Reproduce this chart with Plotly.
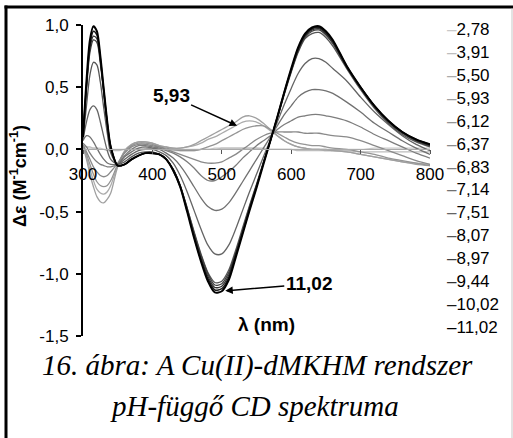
import plotly.graph_objects as go

# ---------------- data ----------------
wavelength = [300, 305, 310, 315, 320, 325, 330, 335, 340,
              350, 360, 370, 380, 390, 400, 410, 420, 430, 440,
              450, 460, 470, 480, 490, 500, 510, 520, 530, 540,
              550, 560, 570, 580, 590, 600, 610, 620, 630, 640,
              650, 660,
              680, 700, 720, 740, 760, 780, 800]

ph_labels = ["2,78", "3,91", "5,50", "5,93", "6,12", "6,37", "6,83",
             "7,14", "7,51", "8,07", "8,97", "9,44", "10,02", "11,02"]

ph_278 = [0.02, 0.02, 0.01, 0.01, 0.01, 0.01, 0.00, 0.00, 0.00,
          0.00, 0.00, 0.00, 0.01, 0.01, 0.01, 0.00, 0.00, 0.00, 0.00,
          0.00, 0.00, 0.00, 0.00, 0.01, 0.01, 0.01, 0.01, 0.01, 0.01,
          0.01, 0.00, 0.00, 0.00, 0.00, 0.00, 0.00, 0.00, 0.00, 0.00,
          0.00, 0.00,
          0.00, 0.00, 0.01, 0.01, 0.01, 0.01, 0.01]
ph_391 = [0.03, 0.02, 0.02, 0.01, 0.01, 0.00, 0.00, -0.01, -0.01,
          -0.01, 0.00, 0.00, 0.00, 0.01, 0.00, 0.00, 0.00, -0.01, -0.01,
          -0.01, -0.01, 0.00, 0.00, 0.00, 0.01, 0.01, 0.01, 0.01, 0.01,
          0.01, 0.01, 0.00, 0.00, 0.00, 0.00, -0.01, -0.01, -0.01, -0.01,
          -0.01, -0.01,
          -0.01, -0.02, -0.02, -0.02, -0.02, -0.02, -0.02]
ph_550 = [0.03, -0.06, -0.16, -0.25, -0.32, -0.35, -0.36, -0.34, -0.29,
          -0.13, -0.01, 0.04, 0.06, 0.06, 0.05, 0.03, 0.02, 0.01, 0.01,
          0.02, 0.03, 0.05, 0.08, 0.10, 0.13, 0.16, 0.19, 0.22, 0.23,
          0.22, 0.19, 0.15, 0.11, 0.07, 0.04, 0.02, 0.01, 0.00, 0.00,
          -0.01, -0.01,
          -0.02, -0.04, -0.06, -0.08, -0.10, -0.11, -0.12]
ph_593 = [0.02, -0.08, -0.20, -0.30, -0.38, -0.42, -0.43, -0.40, -0.35,
          -0.14, -0.02, 0.04, 0.06, 0.06, 0.05, 0.03, 0.02, 0.01, 0.01,
          0.02, 0.04, 0.07, 0.10, 0.13, 0.16, 0.19, 0.22, 0.26, 0.27,
          0.25, 0.21, 0.16, 0.11, 0.07, 0.04, 0.02, 0.01, 0.00, 0.00,
          0.00, -0.01,
          -0.02, -0.04, -0.06, -0.08, -0.10, -0.12, -0.13]
ph_612 = [0.03, -0.04, -0.12, -0.20, -0.26, -0.29, -0.30, -0.29, -0.25,
          -0.12, -0.02, 0.03, 0.05, 0.05, 0.04, 0.02, 0.01, 0.00, -0.01,
          -0.01, -0.01, 0.00, 0.02, 0.04, 0.07, 0.10, 0.13, 0.16, 0.18,
          0.19, 0.19, 0.16, 0.13, 0.10, 0.07, 0.05, 0.04, 0.03, 0.03,
          0.02, 0.01,
          0.00, -0.02, -0.04, -0.07, -0.09, -0.11, -0.13]
ph_637 = [0.04, -0.02, -0.08, -0.14, -0.18, -0.21, -0.22, -0.21, -0.18,
          -0.11, -0.03, 0.02, 0.04, 0.04, 0.03, 0.02, 0.00, -0.02, -0.04,
          -0.06, -0.08, -0.10, -0.11, -0.11, -0.10, -0.07, -0.04, 0.00, 0.04,
          0.08, 0.11, 0.13, 0.14, 0.14, 0.14, 0.14, 0.13, 0.13, 0.13,
          0.12, 0.11,
          0.10, 0.07, 0.03, -0.01, -0.05, -0.09, -0.12]
ph_683 = [0.05, 0.02, -0.03, -0.07, -0.10, -0.12, -0.13, -0.14, -0.14,
          -0.12, -0.05, 0.00, 0.03, 0.03, 0.02, 0.01, -0.01, -0.03, -0.06,
          -0.10, -0.15, -0.21, -0.25, -0.25, -0.22, -0.18, -0.13, -0.07, -0.02,
          0.03, 0.07, 0.11, 0.16, 0.20, 0.23, 0.26, 0.27, 0.28, 0.28,
          0.27, 0.26,
          0.23, 0.18, 0.12, 0.07, 0.02, -0.03, -0.07]
ph_714 = [0.07, 0.11, 0.10, 0.06, 0.01, -0.04, -0.08, -0.11, -0.12,
          -0.12, -0.06, -0.02, 0.01, 0.02, 0.01, 0.00, -0.03, -0.07, -0.13,
          -0.21, -0.30, -0.39, -0.46, -0.49, -0.48, -0.43, -0.35, -0.26, -0.17,
          -0.08, 0.01, 0.10, 0.19, 0.28, 0.35, 0.42, 0.46, 0.48, 0.48,
          0.47, 0.45,
          0.38, 0.30, 0.21, 0.14, 0.07, 0.01, -0.04]
ph_751 = [0.08, 0.22, 0.32, 0.35, 0.32, 0.22, 0.10, -0.01, -0.08,
          -0.12, -0.08, -0.04, -0.01, 0.00, 0.00, -0.02, -0.05, -0.11, -0.21,
          -0.34, -0.49, -0.64, -0.77, -0.84, -0.84, -0.77, -0.64, -0.49, -0.34,
          -0.20, -0.06, 0.08, 0.22, 0.36, 0.49, 0.61, 0.69, 0.73, 0.73,
          0.70, 0.65,
          0.55, 0.42, 0.30, 0.20, 0.11, 0.04, -0.01]
ph_807 = [0.08, 0.35, 0.60, 0.70, 0.68, 0.54, 0.33, 0.13, -0.03,
          -0.12, -0.10, -0.06, -0.03, -0.02, -0.02, -0.04, -0.08, -0.16, -0.29,
          -0.47, -0.66, -0.84, -0.99, -1.07, -1.06, -0.97, -0.81, -0.63, -0.45,
          -0.28, -0.10, 0.07, 0.25, 0.44, 0.62, 0.78, 0.89, 0.93, 0.94,
          0.90, 0.83,
          0.65, 0.48, 0.33, 0.21, 0.12, 0.06, 0.02]
ph_897 = [0.10, 0.48, 0.78, 0.88, 0.86, 0.69, 0.45, 0.20, 0.01,
          -0.13, -0.12, -0.08, -0.05, -0.03, -0.03, -0.04, -0.08, -0.16, -0.29,
          -0.47, -0.67, -0.85, -1.00, -1.09, -1.08, -0.99, -0.83, -0.65, -0.46,
          -0.29, -0.11, 0.07, 0.25, 0.45, 0.63, 0.79, 0.90, 0.95, 0.96,
          0.92, 0.85,
          0.66, 0.49, 0.34, 0.22, 0.13, 0.07, 0.03]
ph_944 = [0.10, 0.50, 0.81, 0.91, 0.89, 0.71, 0.46, 0.21, 0.02,
          -0.13, -0.12, -0.08, -0.05, -0.03, -0.03, -0.04, -0.08, -0.16, -0.29,
          -0.48, -0.69, -0.87, -1.02, -1.11, -1.10, -1.01, -0.84, -0.66, -0.47,
          -0.29, -0.11, 0.07, 0.26, 0.45, 0.63, 0.80, 0.91, 0.96, 0.97,
          0.93, 0.86,
          0.66, 0.50, 0.35, 0.23, 0.14, 0.07, 0.03]
ph_1002 = [0.10, 0.52, 0.84, 0.95, 0.92, 0.73, 0.47, 0.21, 0.02,
           -0.13, -0.12, -0.08, -0.05, -0.03, -0.03, -0.04, -0.08, -0.17, -0.30,
           -0.49, -0.70, -0.89, -1.04, -1.13, -1.12, -1.03, -0.85, -0.67, -0.48,
           -0.30, -0.11, 0.07, 0.26, 0.46, 0.64, 0.81, 0.92, 0.97, 0.98,
           0.94, 0.87,
           0.67, 0.50, 0.35, 0.23, 0.14, 0.08, 0.04]
ph_1102 = [0.10, 0.55, 0.88, 0.99, 0.95, 0.75, 0.48, 0.22, 0.02,
           -0.13, -0.12, -0.08, -0.05, -0.03, -0.03, -0.04, -0.08, -0.17, -0.30,
           -0.50, -0.71, -0.90, -1.06, -1.15, -1.14, -1.05, -0.87, -0.68, -0.49,
           -0.31, -0.12, 0.07, 0.26, 0.46, 0.65, 0.82, 0.93, 0.98, 0.99,
           0.95, 0.88,
           0.67, 0.50, 0.35, 0.23, 0.14, 0.08, 0.04]

series = [ph_278, ph_391, ph_550, ph_593, ph_612, ph_637, ph_683,
          ph_714, ph_751, ph_807, ph_897, ph_944, ph_1002, ph_1102]

y_tick_vals = [-1.5, -1.0, -0.5, 0.0, 0.5, 1.0]
y_tick_text = ["-1,5", "-1,0", "-0,5", "0,0", "0,5", "1,0"]
x_tick_vals = [300, 400, 500, 600, 700, 800]
x_tick_text = ["300", "400", "500", "600", "700", "800"]

# ---------------- styling ----------------
colors = ["#c8c8c8", "#bdbdbd", "#ababab", "#a0a0a0", "#959595", "#8a8a8a",
          "#7d7d7d", "#717171", "#646464", "#555555", "#404040", "#333333",
          "#1a1a1a", "#000000"]
widths = [1.3] * 10 + [1.3, 1.3, 1.5, 2.0]

W, H = 513, 438
L, R, T, B = 83, 430, 25, 336          # plot area in pixels


def xp(px):
    return (px - L) / (R - L)


def yp(py):
    return (B - py) / (B - T)


SANS = "Liberation Sans, Arial, sans-serif"
SERIF = "Liberation Serif, Times New Roman, serif"

fig = go.Figure()
for lab, ys, c, w in zip(ph_labels, series, colors, widths):
    fig.add_trace(go.Scatter(
        x=wavelength, y=ys, mode="lines", name=lab,
        line=dict(color=c, width=w, shape="spline", smoothing=0.8),
        showlegend=False, hoverinfo="skip"))

annotations = []
# legend built as text entries
for i, (lab, c) in enumerate(zip(ph_labels, colors)):
    annotations.append(dict(
        x=xp(445), y=yp(30 + i * 22.85), xref="paper", yref="paper",
        xanchor="left", yanchor="middle", showarrow=False,
        text='<span style="color:%s">\u2013</span>%s' % (c, lab),
        font=dict(family=SANS, size=17, color="black")))

# axis titles
annotations.append(dict(
    x=xp(18), y=yp(176), xref="paper", yref="paper", showarrow=False,
    textangle=-90, xanchor="center", yanchor="middle",
    text="<b>\u0394\u03b5 (M<sup>-1</sup>cm<sup>-1</sup>)</b>",
    font=dict(family=SANS, size=18, color="black")))
annotations.append(dict(
    x=xp(266), y=yp(324), xref="paper", yref="paper", showarrow=False,
    xanchor="center", yanchor="middle", text="<b>\u03bb (nm)</b>",
    font=dict(family=SANS, size=19, color="black")))

# pH callouts
annotations.append(dict(
    x=522, y=0.19, xref="x", yref="y", ax=-66, ay=-30,
    text="<b>5,93</b>", showarrow=True, arrowhead=2, arrowsize=1,
    arrowwidth=1.5, arrowcolor="black",
    font=dict(family=SANS, size=19, color="black")))
annotations.append(dict(
    x=505, y=-1.137, xref="x", yref="y", ax=84, ay=-7,
    text="<b>11,02</b>", showarrow=True, arrowhead=2, arrowsize=1,
    arrowwidth=1.5, arrowcolor="black",
    font=dict(family=SANS, size=19, color="black")))

# caption
annotations.append(dict(
    x=xp(257), y=yp(365), xref="paper", yref="paper", showarrow=False,
    xanchor="center", yanchor="middle",
    text="16. ábra: A Cu(II)-dMKHM rendszer",
    font=dict(family=SERIF, size=29, color="black", style="italic")))
annotations.append(dict(
    x=xp(254), y=yp(406), xref="paper", yref="paper", showarrow=False,
    xanchor="center", yanchor="middle",
    text="pH-függő CD spektruma",
    font=dict(family=SERIF, size=29, color="black", style="italic")))

# page frame (filled bars)
shapes = [
    dict(type="rect", xref="paper", yref="paper", layer="above",
         x0=xp(4.5), x1=xp(513), y0=yp(8.5), y1=yp(5.5),
         fillcolor="black", line=dict(width=0)),
    dict(type="rect", xref="paper", yref="paper", layer="above",
         x0=xp(4.5), x1=xp(7.5), y0=yp(5.5), y1=yp(438),
         fillcolor="black", line=dict(width=0)),
    dict(type="rect", xref="paper", yref="paper", layer="above",
         x0=xp(511.5), x1=xp(512.5), y0=yp(8.5), y1=yp(438),
         fillcolor="#c8c8c8", line=dict(width=0)),
]

fig.update_layout(
    width=W, height=H,
    margin=dict(l=L, r=W - R, t=T, b=H - B, pad=0),
    paper_bgcolor="white", plot_bgcolor="white",
    font=dict(family=SANS, size=17, color="black"),
    annotations=annotations, shapes=shapes,
    xaxis=dict(range=[300, 800], anchor="free", position=0.6,
               tickvals=x_tick_vals, ticktext=x_tick_text,
               ticks="outside", ticklen=4, tickwidth=1, tickcolor="#555555",
               showline=True, linecolor="#aaaaaa", linewidth=1,
               showgrid=False, zeroline=False, ticklabelstandoff=5,
               tickfont=dict(family=SANS, size=17, color="black")),
    yaxis=dict(range=[-1.5, 1.0], tickvals=y_tick_vals, ticktext=y_tick_text,
               ticks="outside", ticklen=5, tickwidth=2, tickcolor="black",
               showline=True, linecolor="black", linewidth=2,
               showgrid=False, zeroline=False, ticklabelstandoff=4,
               tickfont=dict(family=SANS, size=17, color="black")),
)

fig.write_html("out.html",
               config={"displayModeBar": False},
               post_script="document.body.style.margin='0';"
                           "document.body.style.overflow='hidden';")
